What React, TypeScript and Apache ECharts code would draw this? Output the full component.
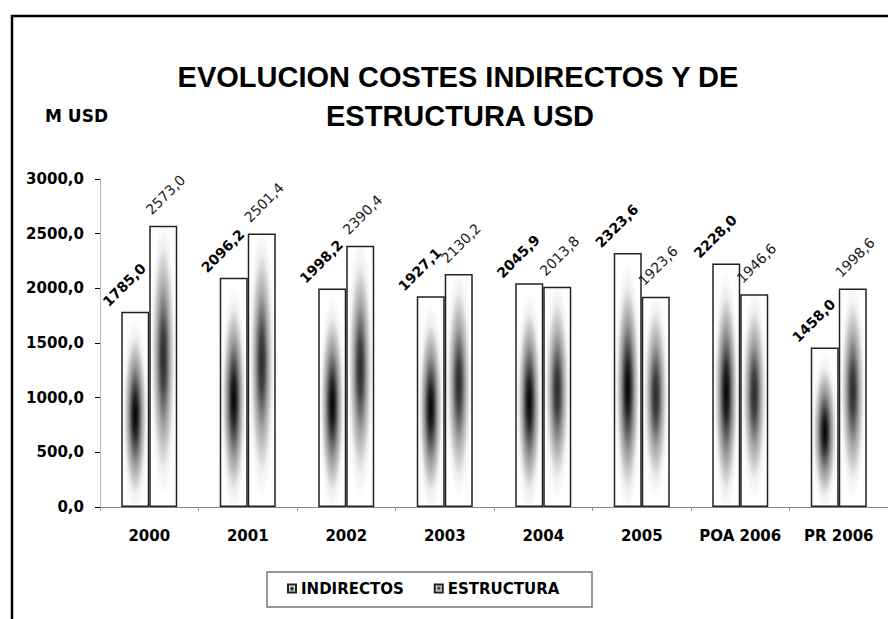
import React, { useEffect, useRef } from 'react';
import * as echarts from 'echarts';

const categories = ['2000', '2001', '2002', '2003', '2004', '2005', 'POA 2006', 'PR 2006'];
const indirectos = [1785.0, 2096.2, 1998.2, 1927.1, 2045.9, 2323.6, 2228.0, 1458.0];
const estructura = [2573.0, 2501.4, 2390.4, 2130.2, 2013.8, 1923.6, 1946.6, 1998.6];
const seriesNames = ['INDIRECTOS', 'ESTRUCTURA'];
const titleLines = ['EVOLUCION COSTES INDIRECTOS Y DE', 'ESTRUCTURA USD'];
const unitLabel = 'M USD';
const yMin = 0;
const yMax = 3000;
const yStep = 500;

const fmt = (v: number) => v.toFixed(1).replace('.', ',');

const DJ = 'DejaVu Sans';
const LS = 'Liberation Sans';

export default function App() {
  const ref = useRef<HTMLDivElement>(null);
  useEffect(() => {
    if (!ref.current) return;
    const chart = echarts.init(ref.current, undefined, { renderer: 'svg' });
    const gradInd = {
      type: 'radial', x: 0.5, y: 0.53, r: 0.5,
      colorStops: [
        { offset: 0, color: '#000' },
        { offset: 0.2, color: '#262626' },
        { offset: 0.5, color: '#9a9a9a' },
        { offset: 0.8, color: '#efefef' },
        { offset: 1, color: '#fff' },
      ],
    };
    const gradEst = {
      type: 'radial', x: 0.5, y: 0.47, r: 0.5,
      colorStops: [
        { offset: 0, color: '#2a2a2a' },
        { offset: 0.2, color: '#444' },
        { offset: 0.5, color: '#a8a8a8' },
        { offset: 0.8, color: '#f0f0f0' },
        { offset: 1, color: '#fff' },
      ],
    };
    chart.setOption({
      animation: false,
      backgroundColor: '#fff',
      grid: { left: 100, top: 179, width: 798, height: 328, containLabel: false },
      legend: {
        data: seriesNames,
        left: 287,
        top: 581,
        itemWidth: 8,
        itemHeight: 8,
        itemGap: 30,
        icon: 'rect',
        padding: 0,
        textStyle: { fontFamily: DJ, fontWeight: 'bold', fontSize: 15, color: '#000' },
      },
      xAxis: {
        type: 'category',
        data: categories,
        axisLine: { lineStyle: { color: '#888', width: 1 } },
        axisTick: { show: true, interval: 0, length: 4, lineStyle: { color: '#999' } },
        axisLabel: { interval: 0, margin: 21, fontFamily: DJ, fontWeight: 'bold', fontSize: 15, color: '#000' },
        splitLine: { show: false },
      },
      yAxis: {
        type: 'value',
        min: yMin,
        max: yMax,
        interval: yStep,
        axisLine: { show: true, lineStyle: { color: '#bbb', width: 1 } },
        axisTick: { show: true, length: 5, lineStyle: { color: '#000' } },
        axisLabel: { margin: 16, fontFamily: DJ, fontWeight: 'bold', fontSize: 15, color: '#000', formatter: (v: number) => fmt(v) },
        splitLine: { show: false },
      },
      series: [
        {
          name: seriesNames[0],
          type: 'bar',
          data: indirectos,
          barWidth: 28,
          barGap: '0%',
          itemStyle: { color: gradInd, borderColor: '#222', borderWidth: 1.5 },
          label: {
            show: true,
            position: [3, -27],
            rotate: 45,
            align: 'center',
            verticalAlign: 'middle',
            fontFamily: DJ,
            fontWeight: 'bold',
            fontSize: 14,
            color: '#000',
            formatter: (p: any) => fmt(p.value),
          },
        },
        {
          name: seriesNames[1],
          type: 'bar',
          data: estructura,
          barWidth: 28,
          barGap: '0%',
          itemStyle: { color: gradEst, borderColor: '#222', borderWidth: 1.5 },
          label: {
            show: true,
            position: ['58%', -31],
            rotate: 45,
            align: 'center',
            verticalAlign: 'middle',
            fontFamily: DJ,
            fontWeight: 'normal',
            fontSize: 14,
            color: '#1a1a1a',
            formatter: (p: any) => fmt(p.value),
          },
        },
      ],
      graphic: [
        {
          type: 'rect', z: 100,
          shape: { x: 12, y: 16, width: 1000, height: 1000 },
          style: { fill: 'none', stroke: '#000', lineWidth: 2.5 },
        },
        {
          type: 'rect', z: 100,
          shape: { x: 267, y: 572, width: 325, height: 35 },
          style: { fill: 'none', stroke: '#777', lineWidth: 1.5 },
        },
        {
          type: 'text', z: 100, x: 458, y: 77,
          style: { text: titleLines[0], align: 'center', verticalAlign: 'middle', font: `bold 29px "${LS}"`, fill: '#000' },
        },
        {
          type: 'text', z: 100, x: 460, y: 116,
          style: { text: titleLines[1], align: 'center', verticalAlign: 'middle', font: `bold 29px "${LS}"`, fill: '#000' },
        },
        {
          type: 'text', z: 100, x: 45, y: 116,
          style: { text: unitLabel, align: 'left', verticalAlign: 'middle', font: `bold 17px "${DJ}"`, fill: '#000' },
        },
      ],
    });
    return () => chart.dispose();
  }, []);
  return (
    <div
      ref={ref}
      style={{ position: 'fixed', left: 0, top: 0, width: 888, height: 619, background: '#fff' }}
    />
  );
}
